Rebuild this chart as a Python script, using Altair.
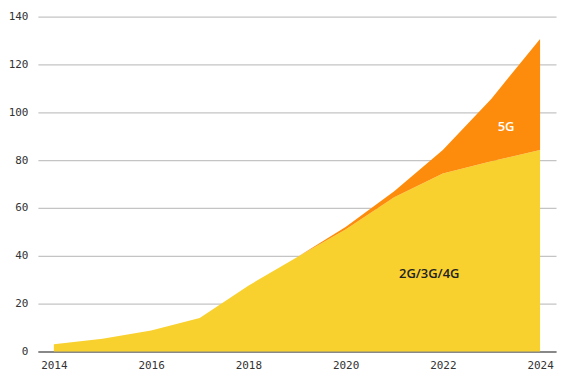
import altair as alt
import pandas as pd

years = [2014, 2015, 2016, 2017, 2018, 2019, 2020, 2021, 2022, 2023, 2024]
legacy = [3, 5.3, 8.8, 14, 27.5, 39.4, 51, 64.5, 74.4, 79.5, 84.2]
fiveg = [0, 0, 0, 0, 0, 0, 1, 2.5, 9.8, 26.2, 46.5]
series = ["2G/3G/4G", "5G"]
colors = ["#F8D12F", "#FE8C0C"]

rows = []
for y, a, b in zip(years, legacy, fiveg):
    rows.append({"year": y, "value": a, "series": series[0], "ord": 0})
    rows.append({"year": y, "value": b, "series": series[1], "ord": 1})
df = pd.DataFrame(rows)

label_df = pd.DataFrame({
    "year": [2021.72, 2023.3],
    "value": [32.5, 93.8],
    "text": ["2G/3G/4G", "5G"],
    "tc": ["#222222", "#ffffff"],
})

xscale = alt.Scale(domain=[2013.672, 2024.328], nice=False, zero=False)
yscale = alt.Scale(domain=[0, 140], nice=False)

area = alt.Chart(df).mark_area(opacity=1).encode(
    x=alt.X("year:Q", scale=xscale,
            axis=alt.Axis(values=[2014, 2016, 2018, 2020, 2022, 2024], format="d",
                          title=None, grid=False, ticks=False, labelPadding=8,
                          domainColor="#888888", domainWidth=2,
                          labelFont="DejaVu Sans Mono", labelFontSize=11,
                          labelColor="#333333")),
    y=alt.Y("value:Q", stack="zero", scale=yscale,
            axis=alt.Axis(values=[0, 20, 40, 60, 80, 100, 120, 140], title=None,
                          domain=False, ticks=False, labelPadding=10,
                          gridColor="#c4c4c4", gridWidth=1.2,
                          labelFont="DejaVu Sans Mono", labelFontSize=11,
                          labelColor="#333333")),
    color=alt.Color("series:N", scale=alt.Scale(domain=series, range=colors), legend=None),
    order=alt.Order("ord:Q"),
)

labels = alt.Chart(label_df).mark_text(font="Open Sans", fontSize=13, fontWeight=600).encode(
    x=alt.X("year:Q", scale=xscale),
    y=alt.Y("value:Q", scale=yscale),
    text="text:N",
    color=alt.Color("tc:N", scale=None),
)

chart = (area + labels).properties(
    width=520, height=336,
    autosize=alt.AutoSizeParams(type="none"),
    padding={"left": 30, "top": 8, "right": 5, "bottom": 30},
).configure_view(stroke=None)

chart.save("out.html", embed_options={"renderer": "svg", "actions": False})
